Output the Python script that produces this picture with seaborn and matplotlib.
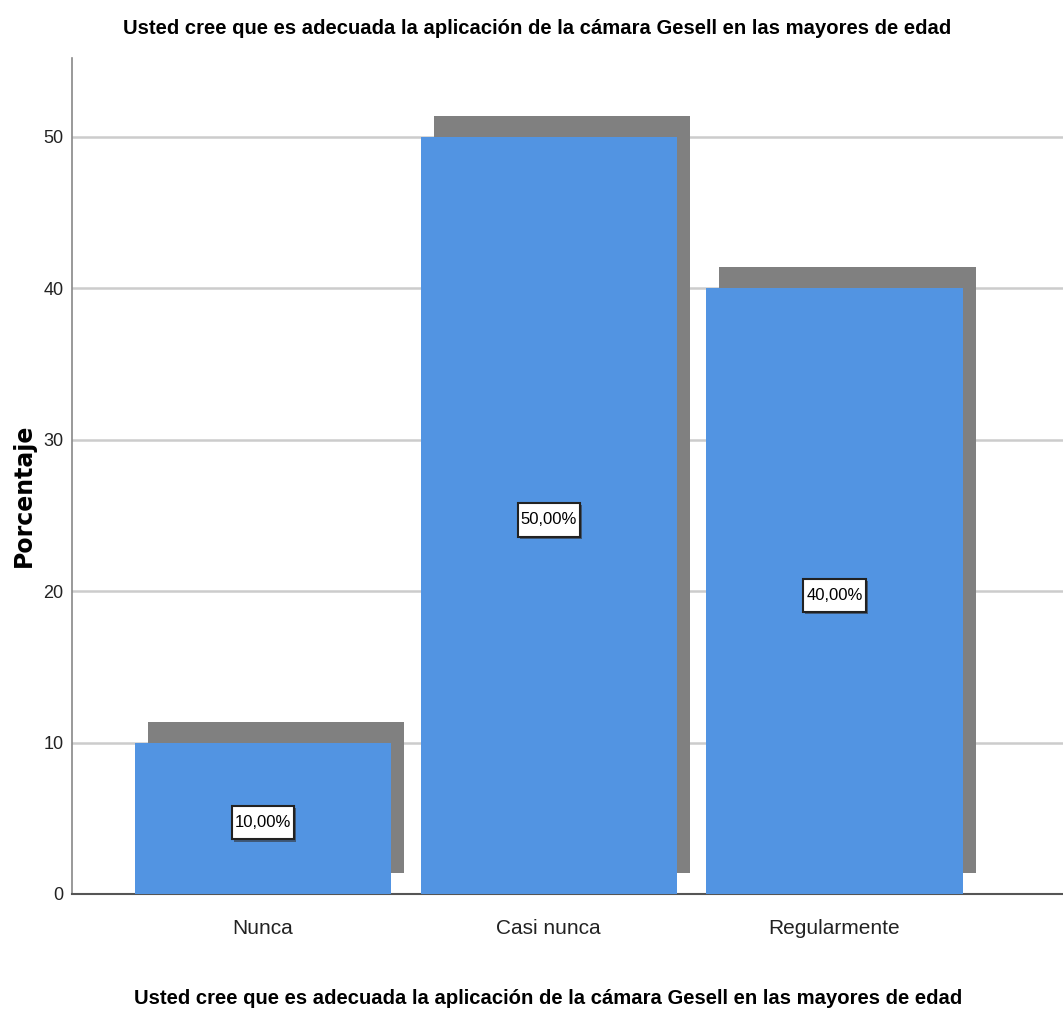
import matplotlib
matplotlib.use("Agg")
import matplotlib.pyplot as plt
import matplotlib.transforms as mtransforms
import matplotlib.patheffects as pe
from matplotlib.path import Path
import pandas as pd
import seaborn as sns

# data
categories = ["Nunca", "Casi nunca", "Regularmente"]
percentages = [10.0, 50.0, 40.0]
bar_labels = ["10,00%", "50,00%", "40,00%"]
title = "Usted cree que es adecuada la aplicación de la cámara Gesell en las mayores de edad"

df = pd.DataFrame({"cat": categories, "pct": percentages})

sns.set_theme(style="white")
plt.rcParams["font.family"] = ["Liberation Sans", "DejaVu Sans"]


def label_box(x0, y0, width, height, mutation_size):
    # tall box with little side padding, like the SPSS data labels
    px, py = 0.18 * mutation_size, 0.55 * mutation_size
    x0, y0 = x0 - px, y0 - py
    x1, y1 = x0 + width + 2 * px, y0 + height + 2 * py
    return Path([(x0, y0), (x1, y0), (x1, y1), (x0, y1), (x0, y0)], closed=True)


fig = plt.figure(figsize=(10.63, 10.14), dpi=100)
ax = fig.add_axes([72 / 1063, 1 - 894 / 1014, 1 - 72 / 1063, (894 - 58) / 1014])

# shadow bars, shifted right and up
sns.barplot(data=df, x="cat", y="pct", color="#808080", saturation=1,
            width=0.897, ax=ax, zorder=2)
shift = mtransforms.ScaledTranslation(13 / 100, 21 / 100, fig.dpi_scale_trans)
for p in ax.patches:
    p.set_transform(ax.transData + shift)
    p.set_linewidth(0)
n_shadow = len(ax.patches)

sns.barplot(data=df, x="cat", y="pct", color="#5294E2", saturation=1,
            width=0.897, ax=ax, zorder=3)
for p in ax.patches[n_shadow:]:
    p.set_linewidth(0)

for i, (v, lab) in enumerate(zip(percentages, bar_labels)):
    t = ax.text(i, v / 2 - 0.3, lab, ha="center", va="center", fontsize=12,
                color="black", zorder=5,
                bbox=dict(boxstyle=label_box, facecolor="white",
                          edgecolor="#222222", linewidth=1.5))
    t.get_bbox_patch().set_path_effects(
        [pe.SimplePatchShadow(offset=(1.5, -1.5), shadow_rgbFace="#333333", alpha=0.6),
         pe.Normal()])

ax.set_xlim(-0.669, 2.80)
ax.set_ylim(0, 55.2)
ax.set_yticks([0, 10, 20, 30, 40, 50])
ax.yaxis.grid(True, color="#cccccc", linewidth=1.8, zorder=0)
ax.set_axisbelow(True)

for s in ["top", "right"]:
    ax.spines[s].set_visible(False)
ax.spines["left"].set_color("#888888")
ax.spines["left"].set_linewidth(1.2)
ax.spines["bottom"].set_color("#555555")
ax.spines["bottom"].set_linewidth(1.5)

ax.tick_params(axis="y", labelsize=13, colors="#222222", length=0, pad=6)
ax.tick_params(axis="x", labelsize=15, colors="#222222", length=0, pad=18)

ax.set_xlabel("")
ax.set_ylabel("")
fig.text(24 / 1063, 1 - 495 / 1014, "Porcentaje", rotation=90, ha="center",
         va="center", fontsize=17, fontweight="bold", color="black",
         family=["DejaVu Sans"])
fig.text(548 / 1063, 1 - 998 / 1014, title, ha="center", va="center",
         fontsize=14.6, fontweight="bold", color="black")
fig.text(537 / 1063, 1 - 28 / 1014, title, ha="center", va="center",
         fontsize=14.6, fontweight="bold", color="black")

fig.savefig("out.png", dpi=100)
